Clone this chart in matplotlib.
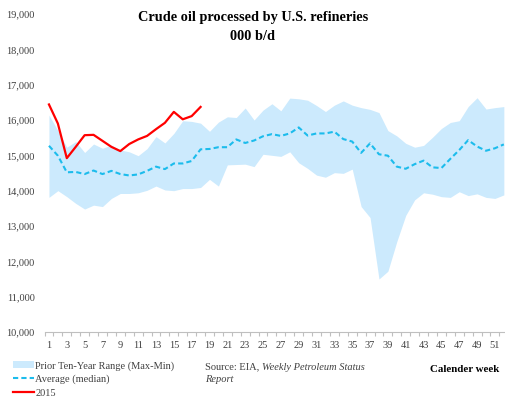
import matplotlib
matplotlib.use("Agg")
import matplotlib.pyplot as plt
from matplotlib.patches import Patch
from matplotlib.lines import Line2D

plt.rcParams['font.family'] = ['Liberation Serif', 'DejaVu Serif']

# weekly crude runs, thousand barrels per day
weeks = list(range(1, 53))

range_max = [16140, 15700, 15230, 15390, 15080, 15320, 15200, 15290, 15150, 15100,
             14990, 15190, 15530, 15350, 15620, 15980, 15960, 15910, 15680, 15940,
             16090, 16070, 16340, 16000, 16280, 16460, 16260, 16620, 16600, 16560,
             16410, 16240, 16420, 16540, 16420, 16350, 16300, 16210, 15700, 15550,
             15340, 15230, 15280, 15510, 15760, 15930, 15980, 16380, 16630, 16310,
             16350, 16380]

range_min = [13810, 14000, 13830, 13640, 13480, 13590, 13550, 13780, 13920, 13920,
             13940, 14010, 14130, 14020, 14000, 14060, 14060, 14090, 14320, 14130,
             14730, 14740, 14750, 14680, 15030, 15000, 14970, 15100, 14790, 14630,
             14440, 14380, 14510, 14490, 14610, 13550, 13240, 11500, 11720, 12560,
             13300, 13740, 13940, 13900, 13830, 13810, 13970, 13860, 13910, 13810,
             13780, 13880]

median = [15270, 14990, 14520, 14530, 14470, 14570, 14470, 14560, 14470, 14430,
          14460, 14560, 14680, 14610, 14770, 14770, 14840, 15170, 15180, 15230,
          15230, 15450, 15350, 15420, 15540, 15600, 15550, 15620, 15790, 15560,
          15620, 15620, 15670, 15460, 15390, 15070, 15340, 15030, 14990, 14680,
          14620, 14750, 14850, 14660, 14640, 14900, 15150, 15430, 15250, 15130,
          15200, 15310]

weeks_2015 = list(range(1, 19))
runs_2015 = [16440, 15900, 14920, 15240, 15570, 15580, 15410, 15240, 15120, 15320,
             15450, 15550, 15740, 15920, 16230, 16020, 16110, 16370]

ytick_vals = list(range(10000, 19001, 1000))
xtick_labels = list(range(1, 53, 2))

band_color = '#cceafd'
median_color = '#1cbcec'
red = '#ff0000'
text_color = '#404040'

fig = plt.figure(figsize=(5.06, 3.97), dpi=100)
ax = fig.add_axes([44.5 / 506, 65 / 397, 463.8 / 506, 318 / 397])

ax.fill_between(weeks, range_min, range_max, color=band_color, linewidth=0)
ax.plot(weeks, median, color=median_color, linewidth=1.5, dashes=(2.5, 1.5))
ax.plot(weeks_2015, runs_2015, color=red, linewidth=1.6)

ax.set_xlim(0.5, 52.5)
ax.set_ylim(10000, 19000)

ax.set_yticks(ytick_vals)
ax.set_yticklabels([f'{v:,}' for v in ytick_vals])
ax.tick_params(axis='y', length=0, pad=7, labelsize=7.5, labelcolor=text_color)

ax.set_xticks(xtick_labels)
ax.set_xticklabels([str(w) for w in xtick_labels])
ax.set_xticks([w + 0.5 for w in range(0, 53)], minor=True)
ax.tick_params(axis='x', which='major', length=0, pad=6.5, labelsize=7.5, labelcolor=text_color)
ax.tick_params(axis='x', which='minor', length=3, color='#bfbfbf', width=0.8)

for s in ['top', 'right', 'left']:
    ax.spines[s].set_visible(False)
ax.spines['bottom'].set_color('#bfbfbf')
ax.spines['bottom'].set_linewidth(0.8)

fig.text(253 / 506, 1 - 18 / 397, 'Crude oil processed by U.S. refineries', ha='center', va='center',
         fontsize=10.3, fontweight='bold', color='black')
fig.text(253 / 506, 1 - 37 / 397, '000 b/d', ha='center', va='center',
         fontsize=10.3, fontweight='bold', color='black')

handles = [Patch(facecolor=band_color, edgecolor='none'),
           Line2D([], [], color=median_color, linewidth=1.5, dashes=(2.5, 1.5)),
           Line2D([], [], color=red, linewidth=1.6)]
labels = ['Prior Ten-Year Range (Max-Min)', 'Average (median)', '2015']
leg = fig.legend(handles, labels, loc='upper left', bbox_to_anchor=(13 / 506, 1 - 361 / 397),
                 frameon=False, fontsize=7.5, handlelength=2.0, handletextpad=0.15,
                 labelspacing=0.4, borderpad=0, borderaxespad=0)
for t in leg.get_texts():
    t.set_color(text_color)

# source note: plain part then italic title right after it
src = fig.text(205 / 506, 1 - 367 / 397, 'Source: EIA, ', ha='left', va='center',
               fontsize=7.5, color=text_color)
renderer = fig.canvas.get_renderer()
bb = src.get_window_extent(renderer=renderer)
fig.text(bb.x1 / fig.bbox.width, 1 - 367 / 397, 'Weekly Petroleum Status', ha='left', va='center',
         fontsize=7.5, style='italic', color=text_color)
fig.text(205 / 506, 1 - 380 / 397, 'Report', ha='left', va='center', fontsize=7.5,
         style='italic', color=text_color)

fig.text(499 / 506, 1 - 370 / 397, 'Calender week', ha='right', va='center', fontsize=7.8,
         fontweight='bold', color='black')

fig.savefig('out.png', dpi=100)
